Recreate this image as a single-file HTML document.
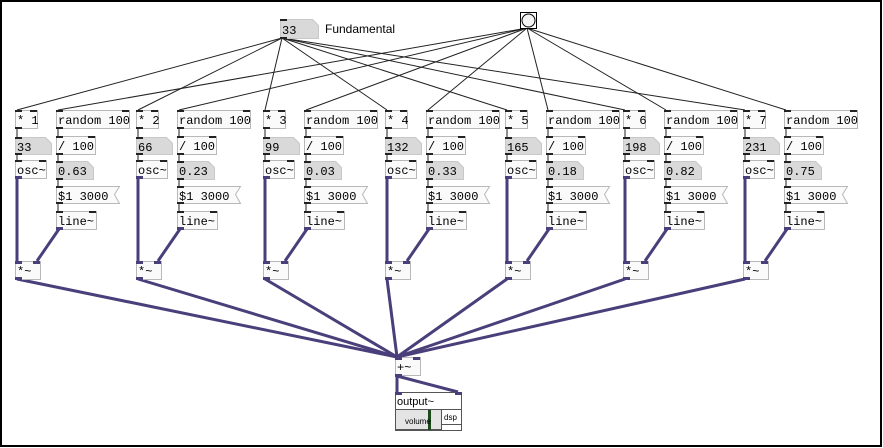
<!DOCTYPE html>
<html><head><meta charset="utf-8"><style>
html,body{margin:0;padding:0;background:#fff;}
svg{display:block;}
text{font-family:"Liberation Mono",monospace;font-size:12px;fill:#000;}
.b{fill:#fafafa;stroke:#b8b8b8;stroke-width:1;}
.a{fill:#d9d9d9;stroke:#c8c8c8;stroke-width:1;}
.m{fill:#fafafa;stroke:#b8b8b8;stroke-width:1;}
.io{fill:#222;}
.sio{fill:#4a3f7a;}
.w{stroke:#222;stroke-width:1;fill:none;}
.s{stroke:#4a3f7a;stroke-width:3;fill:none;}
</style></head><body>
<svg width="883" height="448" viewBox="0 0 883 448" xmlns="http://www.w3.org/2000/svg">
<rect x="1" y="1" width="880" height="445" fill="#fff" stroke="#000" stroke-width="2"/>
<defs>
<g id="col">
 <line class="w" x1="17" y1="128" x2="17" y2="137"/>
 <line class="w" x1="17" y1="154" x2="17" y2="160"/>
 <line class="w" x1="58" y1="128" x2="58" y2="136"/>
 <line class="w" x1="58" y1="154" x2="58" y2="161"/>
 <line class="w" x1="58" y1="179" x2="58" y2="186"/>
 <line class="w" x1="58" y1="203" x2="58" y2="211"/>
 <line class="s" x1="17" y1="178" x2="17" y2="261"/>
 <line class="s" x1="59" y1="229" x2="37" y2="261"/>
 <rect class="b" x="15.5" y="110.5" width="22" height="18"/>
 <rect class="io" x="15" y="110" width="7" height="2"/><rect class="io" x="30" y="110" width="7" height="2"/><rect class="io" x="15" y="127" width="7" height="2"/>
 <path class="a" d="M15.5 137.5H45.5L51.5 143.5V154.5H15.5Z"/>
 <rect class="io" x="15" y="137" width="7" height="2"/><rect class="io" x="15" y="153" width="7" height="2"/>
 <rect class="b" x="15.5" y="160.5" width="31" height="18"/>
 <rect class="io" x="15" y="160" width="7" height="2"/><rect class="io" x="39" y="160" width="7" height="2"/><rect class="sio" x="15" y="176" width="7" height="3"/>
 <text x="17" y="174">osc~</text>
 <rect class="b" x="56.5" y="110.5" width="73" height="18"/>
 <rect class="io" x="56" y="110" width="7" height="2"/><rect class="io" x="122" y="110" width="7" height="2"/><rect class="io" x="56" y="127" width="7" height="2"/>
 <text x="58" y="124">random 100</text>
 <rect class="b" x="56.5" y="136.5" width="39" height="18"/>
 <rect class="io" x="56" y="136" width="7" height="2"/><rect class="io" x="88" y="136" width="7" height="2"/><rect class="io" x="56" y="153" width="7" height="2"/>
 <text x="58" y="150">/ 100</text>
 <path class="a" d="M56.5 161.5H87.5L93.5 167.5V179.5H56.5Z"/>
 <rect class="io" x="56" y="161" width="7" height="2"/><rect class="io" x="56" y="178" width="7" height="2"/>
 <path class="m" d="M56.5 186.5H119.5L114.5 194.5L119.5 203.5H56.5Z"/>
 <rect class="io" x="56" y="186" width="7" height="2"/><rect class="io" x="56" y="202" width="7" height="2"/>
 <text x="58" y="200">$1 3000</text>
 <rect class="b" x="56.5" y="211.5" width="40" height="18"/>
 <rect class="io" x="56" y="211" width="7" height="2"/><rect class="io" x="89" y="211" width="7" height="2"/><rect class="sio" x="56" y="227" width="7" height="3"/>
 <text x="58" y="225">line~</text>
 <rect class="b" x="15.5" y="261.5" width="25" height="18"/>
 <rect class="sio" x="15" y="261" width="7" height="3"/><rect class="sio" x="33" y="261" width="7" height="3"/><rect class="sio" x="15" y="277" width="7" height="3"/>
 <text x="17" y="275">*~</text>
</g>
</defs>
<!-- fan wires -->
<g class="w">
 <line x1="282" y1="38" x2="17" y2="110"/><line x1="282" y1="38" x2="138" y2="110"/><line x1="282" y1="38" x2="265" y2="110"/><line x1="282" y1="38" x2="387" y2="110"/><line x1="282" y1="38" x2="507" y2="110"/><line x1="282" y1="38" x2="625" y2="110"/><line x1="282" y1="38" x2="745" y2="110"/>
 <line x1="527" y1="28" x2="58" y2="110"/><line x1="527" y1="28" x2="179" y2="110"/><line x1="527" y1="28" x2="306" y2="110"/><line x1="527" y1="28" x2="428" y2="110"/><line x1="527" y1="28" x2="548" y2="110"/><line x1="527" y1="28" x2="666" y2="110"/><line x1="527" y1="28" x2="786" y2="110"/>
</g>
<!-- summing signal wires -->
<g class="s">
 <line x1="17" y1="279" x2="397" y2="357"/><line x1="138" y1="279" x2="397" y2="357"/><line x1="265" y1="279" x2="397" y2="357"/><line x1="387" y1="279" x2="397" y2="357"/><line x1="507" y1="279" x2="397" y2="357"/><line x1="625" y1="279" x2="397" y2="357"/><line x1="745" y1="279" x2="397" y2="357"/>
 <line x1="397" y1="376" x2="397" y2="392"/><line x1="397" y1="376" x2="458" y2="392"/>
</g>
<use href="#col"/>
<use href="#col" transform="translate(121,0)"/>
<use href="#col" transform="translate(248,0)"/>
<use href="#col" transform="translate(370,0)"/>
<use href="#col" transform="translate(490,0)"/>
<use href="#col" transform="translate(608,0)"/>
<use href="#col" transform="translate(728,0)"/>
<!-- per-column labels -->
<text x="17" y="124">* 1</text><text x="17" y="151">33</text><text x="58" y="175">0.63</text>
<text x="138" y="124">* 2</text><text x="138" y="151">66</text><text x="179" y="175">0.23</text>
<text x="265" y="124">* 3</text><text x="265" y="151">99</text><text x="306" y="175">0.03</text>
<text x="387" y="124">* 4</text><text x="387" y="151">132</text><text x="428" y="175">0.33</text>
<text x="507" y="124">* 5</text><text x="507" y="151">165</text><text x="548" y="175">0.18</text>
<text x="625" y="124">* 6</text><text x="625" y="151">198</text><text x="666" y="175">0.82</text>
<text x="745" y="124">* 7</text><text x="745" y="151">231</text><text x="786" y="175">0.75</text>
<!-- top -->
<path class="a" d="M280.5 19.5H312.5L318.5 25.5V38.5H280.5Z"/>
<rect class="io" x="280" y="19" width="7" height="2"/><rect class="io" x="280" y="37" width="7" height="2"/>
<text x="282" y="34">33</text>
<text x="325" y="33" style="font-family:'Liberation Sans',sans-serif;font-size:12px">Fundamental</text>
<rect x="520.5" y="12.5" width="16" height="16" fill="#fff" stroke="#000"/>
<circle cx="528.5" cy="20.5" r="6.5" fill="#f4f4f4" stroke="#000"/>
<!-- +~ -->
<rect class="b" x="395.5" y="357.5" width="25" height="18"/>
<rect class="sio" x="395" y="357" width="7" height="3"/><rect class="sio" x="413" y="357" width="7" height="3"/><rect class="sio" x="395" y="374" width="7" height="3"/>
<text x="397" y="371">+~</text>
<!-- output~ -->
<rect x="395.5" y="392.5" width="66" height="38" fill="#fff" stroke="#555"/>
<rect class="sio" x="395" y="392" width="7" height="3"/><rect class="sio" x="455" y="392" width="7" height="3"/>
<text x="397" y="405" style="font-family:'Liberation Sans',sans-serif;font-size:11px">output~</text>
<rect x="395.5" y="409.5" width="46" height="20" fill="#e4e4e4" stroke="#555"/>
<rect x="428" y="410" width="3" height="20" fill="#1b4a1b"/>
<text x="405" y="424" style="font-family:'Liberation Sans',sans-serif;font-size:8px">volume</text>
<rect x="441.5" y="409.5" width="20" height="15" fill="#fff" stroke="#555"/>
<text x="444" y="420" style="font-family:'Liberation Sans',sans-serif;font-size:8px">dsp</text>
</svg>
</body></html>
